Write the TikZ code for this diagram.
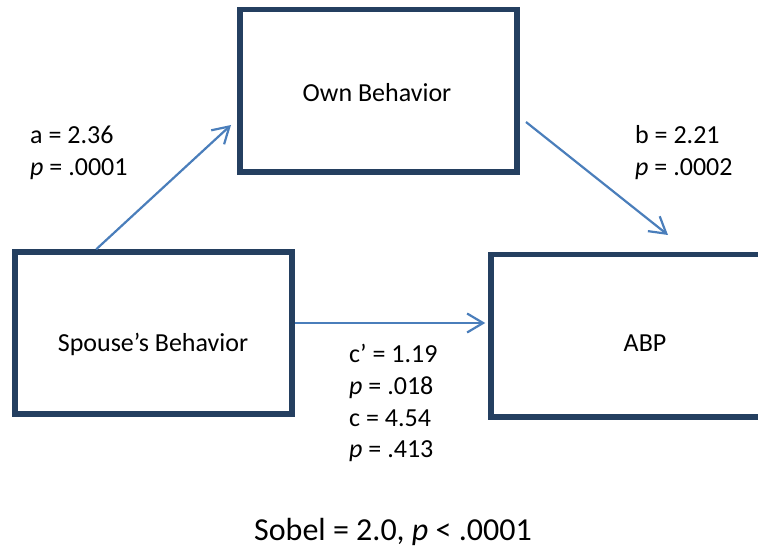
\documentclass[tikz,border=0pt]{standalone}
\usepackage{fontspec}
\setmainfont{Carlito}
\usetikzlibrary{arrows.meta}
\definecolor{boxnavy}{HTML}{243F60}
\definecolor{pathblue}{HTML}{4A7EBB}
\tikzset{
  varbox/.style={draw=boxnavy, line width=5.5pt, inner sep=0pt},
  effect/.style={draw=pathblue, line width=2.2pt, -{Straight Barb[length=16pt,width=19pt]}},
  lbl/.style={inner sep=0pt, anchor=base, font=\fontsize{26}{32}\selectfont},
  coef/.style={lbl, anchor=base west},
}
\begin{document}
\begin{tikzpicture}[x=1pt,y=-1pt]
\clip (0,0) rectangle (758,548);

% boxes:
\node[varbox, minimum width=277pt, minimum height=162.5pt] (own) at (378.5,90.75) {};
\node[varbox, minimum width=277pt, minimum height=162pt] (spouse) at (153.5,333) {};
\node[varbox, minimum width=309pt, minimum height=162.5pt] (abp) at (645.5,335.75) {};
\node[lbl] (owntxt) at (377,101.4) {Own Behavior};
\node[lbl] (spousetxt) at (153,351.4) {Spouse’s Behavior};
\node[lbl] (abptxt) at (645,351.7) {ABP};

% a:
\coordinate (atip) at (231,125);
\draw[effect] (spouse.north west) ++(84,0) -- (atip);
\node[coef] (a) at (30,143.4) {a = 2.36};
\node[coef] (ap) at (30,176) {\textit{p} = .0001};

% b:
\coordinate (bstart) at (526,122);
\coordinate (btip) at (668,235);
\draw[effect] (bstart) -- (btip);
\node[coef] (b) at (635,143.4) {b = 2.21};
\node[coef] (bp) at (635,176) {\textit{p} = .0002};

% c:
\coordinate (cline) at (0,323);
\draw[effect, shorten >=3pt] (spouse.east |- cline) -- (abp.west |- cline);
\node[coef] (cdir) at (349,362.7) {c’ = 1.19};
\node[coef] (cdirp) at (349,394.4) {\textit{p} = .018};
\node[coef] (ctot) at (349,426.1) {c = 4.54};
\node[coef] (ctotp) at (349,457.8) {\textit{p} = .413};

% Sobel:
\node[lbl, font=\fontsize{32}{38}\selectfont] (sobel) at (393,540) {Sobel = 2.0, \textit{p} < .0001};
\end{tikzpicture}
\end{document}
